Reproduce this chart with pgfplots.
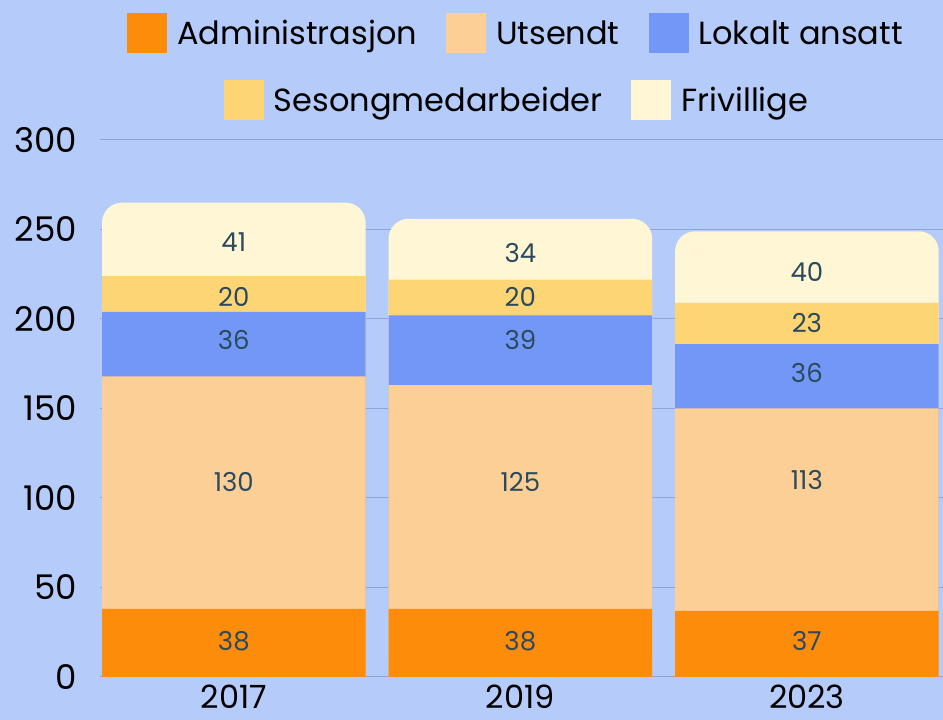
\documentclass[border=0pt]{standalone}
\usepackage{fontspec}
\setmainfont{Poppins}
\usepackage{pgfplots}
\pgfplotsset{compat=1.18}
\usepackage{pgfplotstable}
\definecolor{bg}{HTML}{B5CBFA}
\definecolor{cA}{HTML}{FD8C0A}
\definecolor{cU}{HTML}{FCCF96}
\definecolor{cL}{HTML}{7297F7}
\definecolor{cS}{HTML}{FDD574}
\definecolor{cF}{HTML}{FFF6D6}
\definecolor{gridc}{HTML}{8EA5DA}
\definecolor{labc}{HTML}{2C4A5E}
% segment values and their running totals (plain numbers)
\pgfplotstableread{
x a u l s f ca cu cl cs cf
0 38 130 36 20 41 38 168 204 224 265
1 38 125 39 20 34 38 163 202 222 256
2 37 113 36 23 40 37 150 186 209 249
}\data
\pgfplotstableread{
x y lab
0 20.1 38
0 109.1 130
0 188.3 36
0 212.3 20
0 243.2 41
1 20.1 38
1 109 125
1 188.3 39
1 212.3 20
1 236.6 34
2 20.1 37
2 110 113
2 169.6 36
2 197.6 23
2 226.4 40
}\labels
\begin{document}
\begin{tikzpicture}
\fill[bg] (-100pt,-43pt) rectangle (843pt,677pt);
\pgfplotsset{
  base/.style={
    scale only axis, width=843pt, height=537pt,
    xmin=-0.467, xmax=2.475, ymin=0, ymax=300,
    legend image code/.code={\fill[##1, draw=none] (0pt,-20pt) rectangle (40pt,20pt);},
    legend style={draw=none, fill=none, font=\fontsize{32pt}{37pt}\selectfont,
      legend columns=-1, anchor=center,
      /tikz/every odd column/.append style={column sep=8pt},
      /tikz/every even column/.append style={column sep=27pt}},
  }
}
\begin{axis}[base,
  axis line style={draw=none},
  major tick length=0pt,
  ytick={0,50,100,150,200,250,300},
  ymajorgrids, grid style={gridc, line width=1pt},
  xtick={0,1,2}, xticklabels={2017,2019,2023},
  /pgf/number format/assume math mode=true,
  tick label style={font=\fontsize{34pt}{40pt}\selectfont, text=black},
  yticklabel style={anchor=east, inner sep=0pt, xshift=-23pt},
  xticklabel style={anchor=north, inner sep=0pt, yshift=-8pt, font=\fontsize{32pt}{36pt}\selectfont},
  legend style={at={(0.4935,1.199)}},
]
\addlegendimage{fill=cA}\addlegendentry{Administrasjon}
\addlegendimage{fill=cU}\addlegendentry{Utsendt}
\addlegendimage{fill=cL}\addlegendentry{Lokalt ansatt}
\addplot[ybar, bar width=0.92, bar shift=0pt, fill=cF, draw=none, rounded corners=20pt, forget plot] table[x=x,y=cf]{\data};
\addplot[ybar, bar width=0.92, bar shift=0pt, fill=cS, draw=none, forget plot] table[x=x,y=cs]{\data};
\addplot[ybar, bar width=0.92, bar shift=0pt, fill=cL, draw=none, forget plot] table[x=x,y=cl]{\data};
\addplot[ybar, bar width=0.92, bar shift=0pt, fill=cU, draw=none, forget plot] table[x=x,y=cu]{\data};
\addplot[ybar, bar width=0.92, bar shift=0pt, fill=cA, draw=none, forget plot] table[x=x,y=ca]{\data};
\addplot[only marks, mark=none, forget plot, nodes near coords, point meta=explicit symbolic,
  nodes near coords style={anchor=center, text=labc, font=\fontsize{26pt}{30pt}\selectfont}]
  table[x=x,y=y,meta=lab]{\labels};
\end{axis}
\begin{axis}[base, hide axis, legend style={at={(0.4947,1.0745)}}]
\addlegendimage{fill=cS}\addlegendentry{Sesongmedarbeider}
\addlegendimage{fill=cF}\addlegendentry{Frivillige}
\end{axis}
\pgfresetboundingbox
\useasboundingbox (-100pt,-43pt) rectangle (843pt,677pt);
\end{tikzpicture}
\end{document}
